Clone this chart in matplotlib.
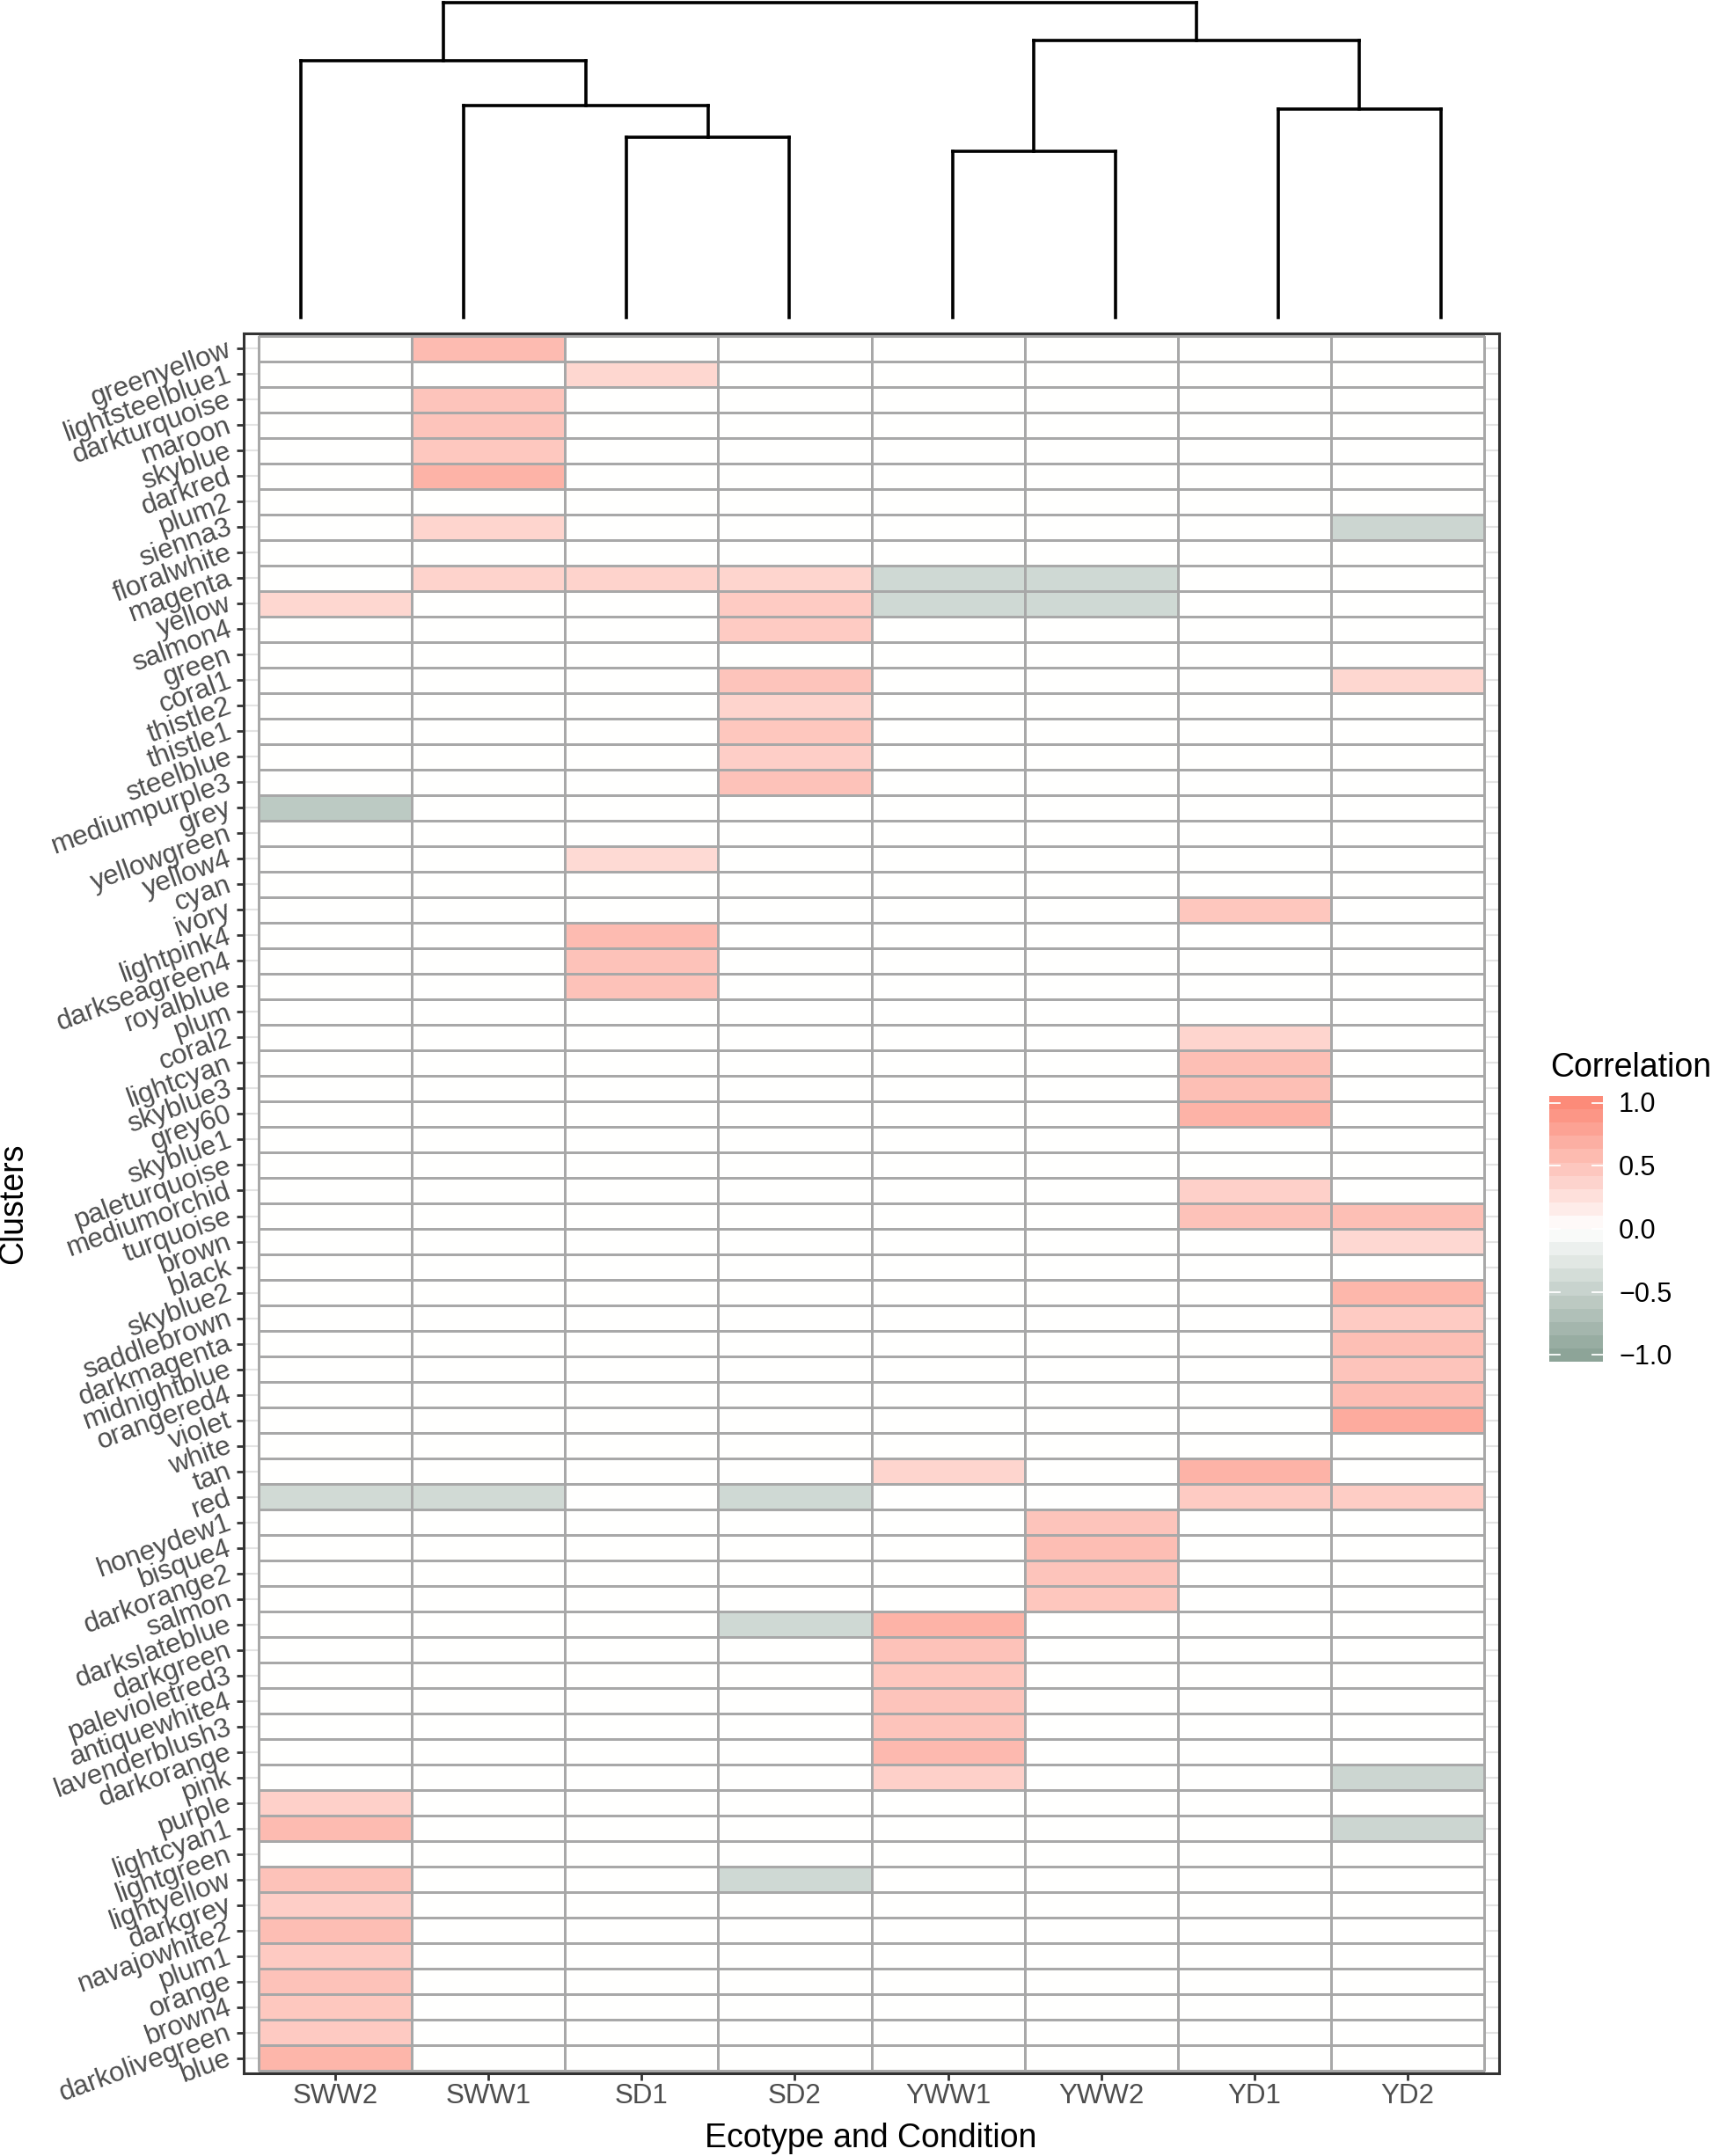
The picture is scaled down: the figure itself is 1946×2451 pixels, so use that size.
import matplotlib
matplotlib.use("Agg")
import matplotlib.pyplot as plt
import numpy as np
from matplotlib.colors import LinearSegmentedColormap, Normalize

plt.rcParams['font.family'] = ['Liberation Sans', 'DejaVu Sans']

# ---------------- data ----------------
clusters = ["greenyellow", "lightsteelblue1", "darkturquoise", "maroon", "skyblue", "darkred",
            "plum2", "sienna3", "floralwhite", "magenta", "yellow", "salmon4", "green", "coral1",
            "thistle2", "thistle1", "steelblue", "mediumpurple3", "grey", "yellowgreen", "yellow4",
            "cyan", "ivory", "lightpink4", "darkseagreen4", "royalblue", "plum", "coral2",
            "lightcyan", "skyblue3", "grey60", "skyblue1", "paleturquoise", "mediumorchid",
            "turquoise", "brown", "black", "skyblue2", "saddlebrown", "darkmagenta", "midnightblue",
            "orangered4", "violet", "white", "tan", "red", "honeydew1", "bisque4", "darkorange2",
            "salmon", "darkslateblue", "darkgreen", "palevioletred3", "antiquewhite4",
            "lavenderblush3", "darkorange", "pink", "purple", "lightcyan1", "lightgreen",
            "lightyellow", "darkgrey", "navajowhite2", "plum1", "orange", "brown4",
            "darkolivegreen", "blue"]

conditions = ["SWW2", "SWW1", "SD1", "SD2", "YWW1", "YWW2", "YD1", "YD2"]

# non-zero correlations per condition (all other cells are 0)
corr_SWW2 = {"yellow": 0.35, "grey": -0.58, "red": -0.40, "purple": 0.40, "lightcyan1": 0.58,
             "lightyellow": 0.52, "darkgrey": 0.42, "navajowhite2": 0.56, "plum1": 0.46,
             "orange": 0.52, "brown4": 0.47, "darkolivegreen": 0.46, "blue": 0.63}
corr_SWW1 = {"greenyellow": 0.58, "darkturquoise": 0.50, "maroon": 0.50, "skyblue": 0.47,
             "darkred": 0.65, "sienna3": 0.36, "magenta": 0.38, "red": -0.40}
corr_SD1 = {"lightsteelblue1": 0.35, "magenta": 0.38, "yellow4": 0.32, "lightpink4": 0.58,
            "darkseagreen4": 0.52, "royalblue": 0.52}
corr_SD2 = {"magenta": 0.36, "yellow": 0.45, "salmon4": 0.45, "coral1": 0.50, "thistle2": 0.37,
            "thistle1": 0.48, "steelblue": 0.42, "mediumpurple3": 0.52, "red": -0.42,
            "darkslateblue": -0.42, "lightyellow": -0.42}
corr_YWW1 = {"magenta": -0.42, "yellow": -0.42, "tan": 0.36, "darkslateblue": 0.65,
             "darkgreen": 0.52, "palevioletred3": 0.48, "antiquewhite4": 0.50,
             "lavenderblush3": 0.50, "darkorange": 0.60, "pink": 0.40}
corr_YWW2 = {"magenta": -0.42, "yellow": -0.42, "honeydew1": 0.50, "bisque4": 0.56,
             "darkorange2": 0.50, "salmon": 0.48}
corr_YD1 = {"ivory": 0.48, "coral2": 0.36, "lightcyan": 0.55, "skyblue3": 0.55, "grey60": 0.65,
            "mediumorchid": 0.40, "turquoise": 0.52, "tan": 0.65, "red": 0.45}
corr_YD2 = {"sienna3": -0.45, "coral1": 0.35, "turquoise": 0.55, "brown": 0.33, "skyblue2": 0.62,
            "saddlebrown": 0.45, "darkmagenta": 0.55, "midnightblue": 0.50, "orangered4": 0.57,
            "violet": 0.72, "red": 0.43, "pink": -0.45, "lightcyan1": -0.45}

corr_by_condition = [corr_SWW2, corr_SWW1, corr_SD1, corr_SD2,
                     corr_YWW1, corr_YWW2, corr_YD1, corr_YD2]

# dendrogram merges over the conditions: (node, left child, right child, height)
dend_merges = [("A", "SD1", "SD2", 2.06),
               ("B", "SWW1", "A", 2.42),
               ("C", "SWW2", "B", 2.93),
               ("D", "YWW1", "YWW2", 1.90),
               ("E", "YD1", "YD2", 2.38),
               ("F", "D", "E", 3.16),
               ("G", "C", "F", 3.59)]

legend_ticks = [-1.0, -0.5, 0.0, 0.5, 1.0]
legend_tick_labels = ["\u22121.0", "\u22120.5", "0.0", "0.5", "1.0"]

# ---------------- build ----------------
n_rows, n_cols = len(clusters), len(conditions)
mat = np.zeros((n_rows, n_cols))
for j, d in enumerate(corr_by_condition):
    for name, v in d.items():
        mat[clusters.index(name), j] = v

cmap = LinearSegmentedColormap.from_list("corr", ["#8DA498", "#FFFFFF", "#FC8B79"])
norm = Normalize(-1, 1)

W, H = 1946, 2451
fig = plt.figure(figsize=(W / 100, H / 100), dpi=100)

def frac(left, top, right, bottom):
    return [left / W, 1 - bottom / H, (right - left) / W, (bottom - top) / H]

# ---- heatmap ----
ax = fig.add_axes(frac(277, 379, 1704, 2357))
ax.set_xlim(-0.6, n_cols - 0.4)
ax.set_ylim(n_rows - 0.4, -0.6)
for i in range(n_rows):
    ax.axhline(i, color="#E3E3E3", lw=1.5, zorder=0)
for j in range(n_cols):
    ax.axvline(j, color="#E3E3E3", lw=1.5, zorder=0)
ax.pcolormesh(np.arange(-0.5, n_cols), np.arange(-0.5, n_rows), mat, cmap=cmap, norm=norm,
              edgecolors="#A8A8A8", linewidth=1.0, zorder=2)
for s in ax.spines.values():
    s.set_color("#333333")
    s.set_linewidth(2.2)
    s.set_zorder(5)
ax.set_xticks(range(n_cols))
ax.set_xticklabels(conditions)
ax.set_yticks(range(n_rows))
ax.set_yticklabels(clusters, rotation=20, ha="right", va="center", rotation_mode="anchor")
ax.tick_params(axis="both", length=5.8, width=2.0, color="#333333", labelcolor="#4D4D4D",
               labelsize=22.5)
ax.tick_params(axis="x", pad=2)
ax.tick_params(axis="y", pad=5)

fig.text(15 / W, 1 - 1368 / H, "Clusters", rotation=90, ha="center", va="center",
         fontsize=27, color="black")
fig.text(990 / W, 1 - 2441 / H, "Ecotype and Condition", ha="center", va="baseline",
         fontsize=27, color="black")

# ---- dendrogram ----
dax = fig.add_axes(frac(342, 3, 1638, 361))
dax.set_xlim(0, n_cols - 1)
top_h = max(m[3] for m in dend_merges)
dax.set_ylim(0, top_h)
dax.axis("off")
pos = {c: float(i) for i, c in enumerate(conditions)}
hgt = {c: 0.0 for c in conditions}
for node, l, r, h in dend_merges:
    xl, xr = pos[l], pos[r]
    kw = dict(color="black", lw=2.6, solid_capstyle="projecting", clip_on=False)
    dax.plot([xl, xl], [hgt[l], h], **kw)
    dax.plot([xr, xr], [hgt[r], h], **kw)
    dax.plot([xl, xr], [h, h], **kw)
    pos[node] = (xl + xr) / 2
    hgt[node] = h

# ---- legend (colorbar) ----
fig.text(1762 / W, 1 - 1224 / H, "Correlation", ha="left", va="baseline", fontsize=27,
         color="black")
nbin = 20
d = 2 / (nbin - 1)
cax = fig.add_axes(frac(1761, 1246, 1822, 1548))
cax.imshow(np.linspace(-1, 1, nbin).reshape(-1, 1), cmap=cmap, norm=norm, origin="lower",
           aspect="auto", extent=(0, 1, -1 - d / 2, 1 + d / 2), interpolation="nearest")
cax.set_xlim(0, 1)
cax.set_ylim(-1 - d / 2, 1 + d / 2)
cax.axis("off")
for t, lab in zip(legend_ticks, legend_tick_labels):
    cax.plot([0, 0.2], [t, t], color="white", lw=1.3)
    cax.plot([0.8, 1.0], [t, t], color="white", lw=1.3)
    cax.text((1840 - 1761) / 61, t - 0.02, lab, ha="left", va="center", fontsize=22,
             color="black", clip_on=False)

fig.savefig("out.png", dpi=100)
